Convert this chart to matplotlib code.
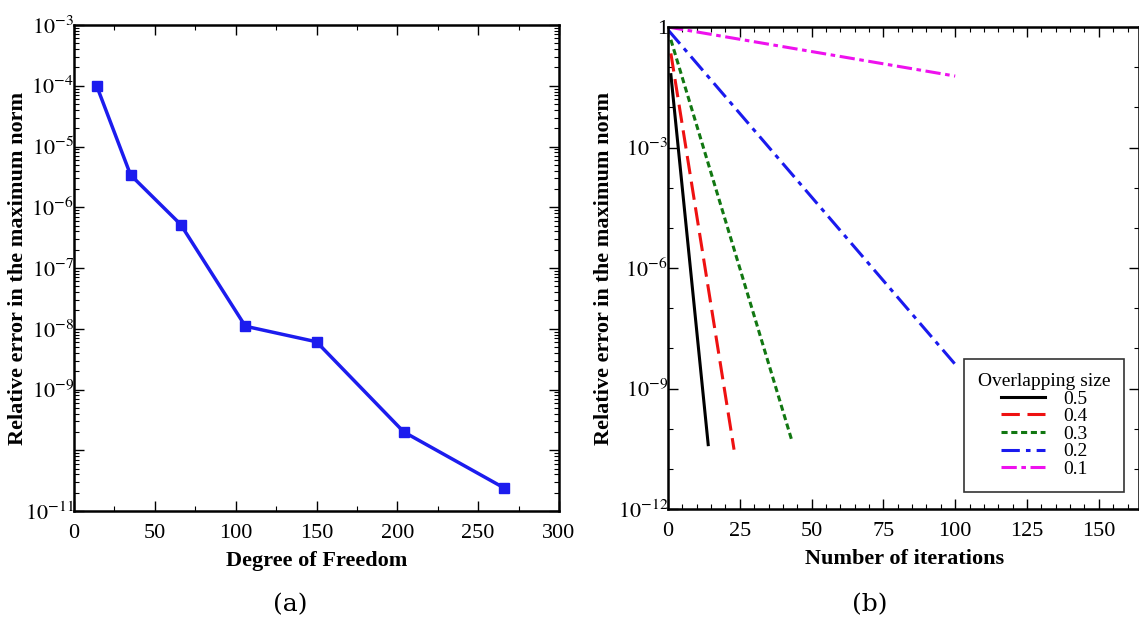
import numpy as np
import matplotlib
matplotlib.use("Agg")
import matplotlib.pyplot as plt
from matplotlib.ticker import FixedLocator, FixedFormatter, MultipleLocator, NullFormatter

plt.rcParams['font.family'] = ['Liberation Serif', 'DejaVu Serif']
plt.rcParams['mathtext.fontset'] = 'stix'

# (a) error vs degrees of freedom
dof = [14, 35, 66, 106, 150, 204, 266]
err_dof = [1.0e-4, 3.4e-6, 5.2e-7, 1.1e-8, 6.1e-9, 2.0e-10, 2.4e-11]

# (b) error vs iterations, one series per overlapping size
sizes = ['0.5', '0.4', '0.3', '0.2', '0.1']
iters = [[1, 14], [1, 23], [1, 43], [0, 100], [0, 100]]
errs = [[6.5e-2, 4.0e-11], [2.2e-1, 3.0e-11], [4.8e-1, 5.4e-11], [8.5e-1, 4.0e-9], [1.0, 6.0e-2]]
colors = ['black', '#ee1111', '#117711', '#1a1aee', '#ee11ee']
styles = ['-', (0, (6, 2.5)), (0, (2, 1.2)), (0, (6, 2, 1.5, 2)), (0, (5, 1.5, 1.5, 1.5))]

fig = plt.figure(figsize=(11.39, 6.21), dpi=100)
W, H = 1139, 621

def style_axes(ax):
    for s in ax.spines.values():
        s.set_linewidth(1.8)
    ax.tick_params(which='both', direction='in', top=True, right=True, labelsize=16)
    ax.tick_params(which='major', length=7, width=1.0)
    ax.tick_params(which='minor', length=3.5, width=0.8)
    ax.tick_params(axis='x', which='major', pad=9)
    ax.tick_params(axis='y', which='major', pad=0)

# panel (a)
ax1 = fig.add_axes([74 / W, 1 - 511 / H, (559 - 74) / W, (511 - 25) / H])
ax1.plot(dof, err_dof, '-s', color='#1c1cee', lw=2.5, ms=7)
ax1.set_yscale('log')
ax1.set_xlim(0, 300)
ax1.set_ylim(1e-11, 1e-3)
ax1.xaxis.set_major_locator(MultipleLocator(50))
ax1.xaxis.set_minor_locator(MultipleLocator(25))
ydec = [1e-11, 1e-10, 1e-9, 1e-8, 1e-7, 1e-6, 1e-5, 1e-4, 1e-3]
ylab = [r'$10^{-11}$', '', r'$10^{-9}$', r'$10^{-8}$', r'$10^{-7}$',
        r'$10^{-6}$', r'$10^{-5}$', r'$10^{-4}$', r'$10^{-3}$']
ax1.yaxis.set_major_locator(FixedLocator(ydec))
ax1.yaxis.set_major_formatter(FixedFormatter(ylab))
ax1.yaxis.set_minor_locator(FixedLocator([m * 10.0 ** k for k in range(-11, -3) for m in range(2, 10)]))
ax1.yaxis.set_minor_formatter(NullFormatter())
style_axes(ax1)
ax1.set_xlabel('Degree of Freedom', fontsize=16, fontweight='bold')
ax1.set_ylabel('Relative error in the maximum norm', fontsize=16, fontweight='bold')
ax1.xaxis.set_label_coords(0.5, -(551 - 511) / (511 - 25))
ax1.yaxis.set_label_coords(-(74 - 28) / (559 - 74), 0.5)

# panel (b)
ax2 = fig.add_axes([668 / W, 1 - 509 / H, (1139 - 668) / W, (509 - 27) / H])
for it, er, c, ls, lab in zip(iters, errs, colors, styles, sizes):
    ax2.plot(it, er, color=c, linestyle=ls, lw=2.2, label=lab)
ax2.set_yscale('log')
ax2.set_xlim(0, 164)
ax2.set_ylim(1e-12, 1)
ax2.xaxis.set_major_locator(MultipleLocator(25))
ax2.xaxis.set_minor_locator(MultipleLocator(5))
ax2.yaxis.set_major_locator(FixedLocator([1e-12, 1e-9, 1e-6, 1e-3, 1]))
ax2.yaxis.set_major_formatter(FixedFormatter([r'$10^{-12}$', r'$10^{-9}$', r'$10^{-6}$', r'$10^{-3}$', '1']))
ax2.yaxis.set_minor_locator(FixedLocator([10.0 ** k for k in range(-12, 1)]))
ax2.yaxis.set_minor_formatter(NullFormatter())
style_axes(ax2)
ax2.set_xlabel('Number of iterations', fontsize=16, fontweight='bold')
ax2.set_ylabel('Relative error in the maximum norm', fontsize=16, fontweight='bold')
ax2.xaxis.set_label_coords((905 - 668) / (1139 - 668), -(549 - 509) / (509 - 27))
ax2.yaxis.set_label_coords(-(668 - 614) / (1139 - 668), 0.5)
leg = ax2.legend(title='Overlapping size', loc='lower right', bbox_to_anchor=(0.968, 0.036),
                 fontsize=14, title_fontsize=14, handlelength=2.3, handletextpad=0.9,
                 frameon=True, fancybox=False, edgecolor='black', labelspacing=0.0,
                 borderpad=0.7, borderaxespad=0)
leg.get_frame().set_linewidth(1.2)

fig.text(290 / W, 1 - 605 / H, '(a)', fontsize=18, ha='center', va='center', family='DejaVu Serif')
fig.text(870 / W, 1 - 605 / H, '(b)', fontsize=18, ha='center', va='center', family='DejaVu Serif')

fig.savefig('out.png', dpi=100)
